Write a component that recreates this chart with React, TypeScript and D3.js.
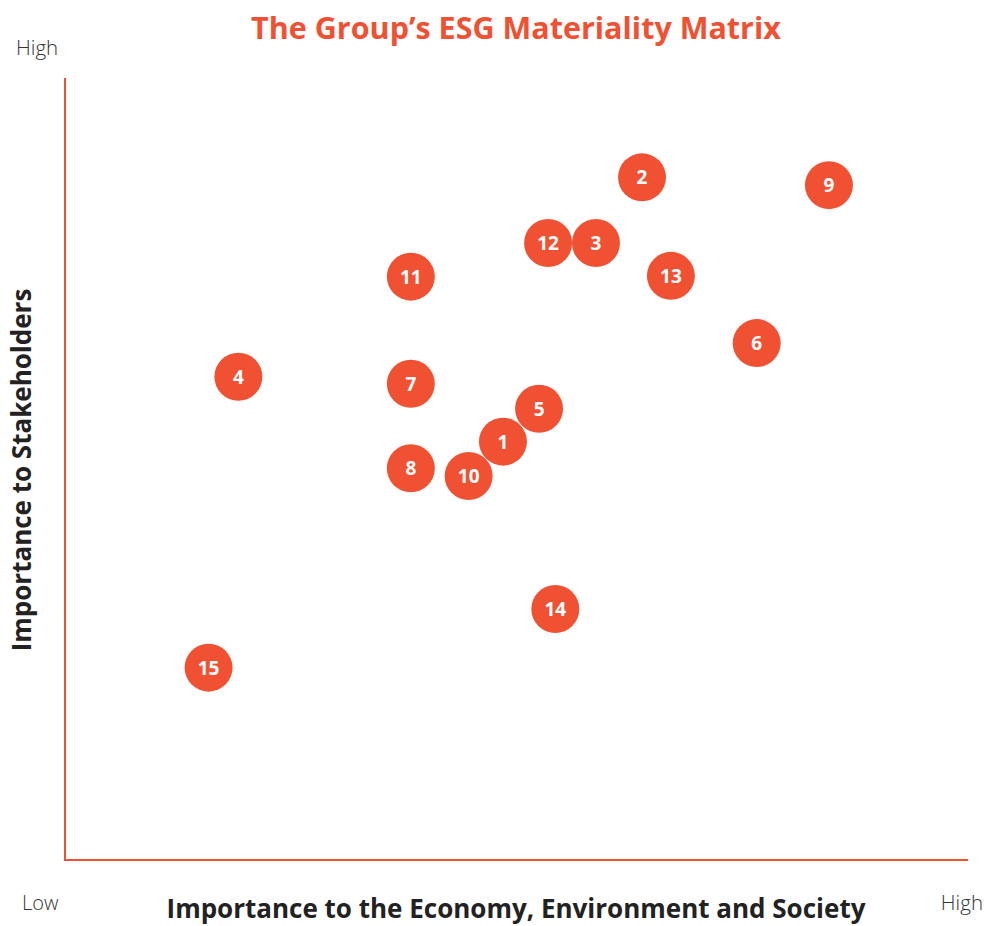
import * as React from "react";
import * as d3 from "d3";

// topic ids and their positions on the 0-10 importance scales
const topics = [1, 2, 3, 4, 5, 6, 7, 8, 9, 10, 11, 12, 13, 14, 15];
const economyScore = [4.85, 6.39, 5.88, 1.92, 5.25, 7.66, 3.83, 3.83, 8.46, 4.47, 3.83, 5.35, 6.71, 5.43, 1.59];
const stakeholderScore = [5.35, 8.73, 7.89, 6.18, 5.77, 6.61, 6.09, 5.01, 8.63, 4.91, 7.46, 7.89, 7.47, 3.21, 2.46];

const title = "The Group\u2019s ESG Materiality Matrix";
const xTitle = "Importance to the Economy, Environment and Society";
const yTitle = "Importance to Stakeholders";

const red = "#f05133";
const font = "'Open Sans', 'Noto Sans', sans-serif";

function App() {
  const width = 986;
  const height = 926;
  const left = 65;
  const right = 968;
  const top = 78;
  const bottom = 860;

  const x = d3.scaleLinear().domain([0, 10]).range([left, right]);
  const y = d3.scaleLinear().domain([0, 10]).range([bottom, top]);

  const axis = d3.path();
  axis.moveTo(left, top);
  axis.lineTo(left, bottom);
  axis.lineTo(right, bottom);

  return (
    <svg
      width={width}
      height={height}
      style={{ position: "absolute", left: 0, top: 0, background: "#fff" }}
      fontFamily={font}
    >
      <text x={516} y={39} textAnchor="middle" fontSize={30.5} fontWeight="bold" fill={red}>
        {title}
      </text>
      <text x={16} y={55} fontSize={20.5} fontWeight={300} fill="#333">High</text>
      <text x={22} y={910} fontSize={20} fontWeight={300} fill="#333">Low</text>
      <text x={983} y={910} textAnchor="end" fontSize={20.5} fontWeight={300} fill="#333">High</text>

      <path d={axis.toString()} stroke={red} strokeWidth={2} fill="none" />

      <text x={516} y={918} textAnchor="middle" fontSize={26} fontWeight="bold" fill="#222">
        {xTitle}
      </text>
      <text
        transform={`translate(31, 470) rotate(-90)`}
        textAnchor="middle"
        fontSize={26}
        fontWeight="bold"
        fill="#222"
      >
        {yTitle}
      </text>

      {topics.map((d, i) => (
        <g key={d} transform={`translate(${x(economyScore[i])}, ${y(stakeholderScore[i])})`}>
          <circle r={24} fill={red} />
          <text
            y={0}
            textAnchor="middle"
            dominantBaseline="central"
            fontSize={19}
            fontWeight="bold"
            fill="#fff"
          >
            {d}
          </text>
        </g>
      ))}
    </svg>
  );
}

export default App;
